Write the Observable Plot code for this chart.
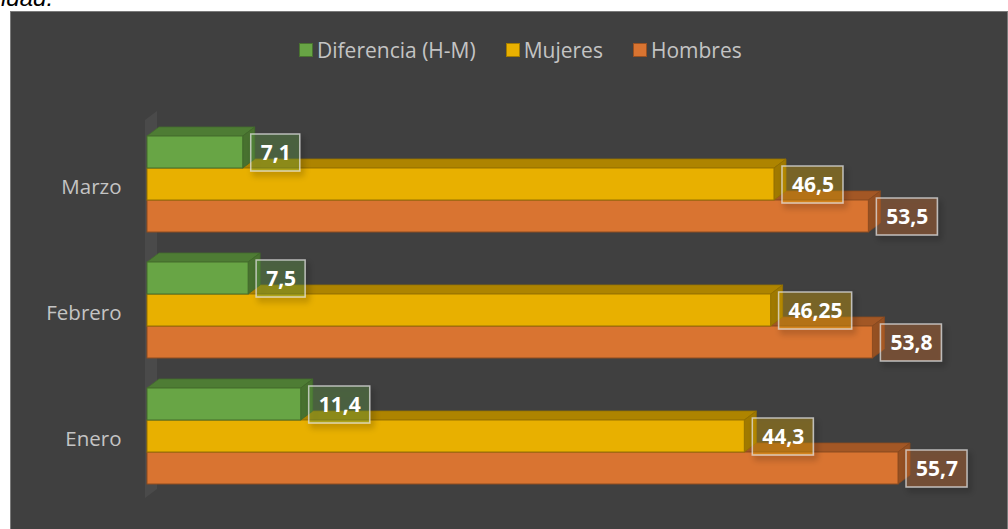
<!DOCTYPE html>
<html>
<head>
<meta charset="utf-8">
<script src="https://cdn.jsdelivr.net/npm/d3@7"></script>
<script src="https://cdn.jsdelivr.net/npm/@observablehq/plot@0.6"></script>
<style>
  html, body { margin: 0; padding: 0; }
  body { width: 1008px; height: 529px; overflow: hidden; position: relative; background: #ffffff; font-family: "Open Sans", sans-serif; }
  #cap { position: absolute; left: 1px; top: -16px; font: italic 24px "Liberation Sans", Arial, sans-serif; color: #000; white-space: nowrap; }
  #panel { position: absolute; left: 10px; top: 11px; width: 998px; height: 530px; background: #404040; border: 1px solid #7a7a7a; box-sizing: border-box; }
  #chart { position: absolute; left: 0; top: 0; }
  #legend { position: absolute; left: 299px; top: 36px; display: flex; align-items: center; color: #c4c4c4; font-size: 21px; font-family: "Open Sans", sans-serif; white-space: nowrap; }
  #legend .item { display: flex; align-items: center; margin-right: 30px; }
  #legend .sw { width: 12px; height: 12px; border: 1px solid; margin-right: 4px; }
</style>
</head>
<body>
<div id="cap">idad.</div>
<div id="panel"></div>
<div id="chart"></div>
<div id="legend"></div>
<script>
// ---- data ----
const months = ["Marzo", "Febrero", "Enero"];
const seriesTopToBottom = ["Diferencia (H-M)", "Mujeres", "Hombres"];
const hombres = [53.5, 53.8, 55.7];
const mujeres = [46.5, 46.25, 44.3];
const diferencia = [7.1, 7.5, 11.4];
const seriesColors = ["#68a545", "#e8b000", "#d97431"]; // Diferencia, Mujeres, Hombres

// rows in drawing order (bottom bar first so upper bars overlap the 3D tops)
const rows = months.flatMap((m, i) => [
  {month: m, series: "Hombres", value: hombres[i]},
  {month: m, series: "Mujeres", value: mujeres[i]},
  {month: m, series: "Diferencia (H-M)", value: diferencia[i]}
]);

const fmt = v => String(v).replace(".", ",");
const LABEL_FONT = "bold 21px 'Open Sans'";
const PAD = 9.5;
const measureCtx = document.createElement("canvas").getContext("2d");
measureCtx.font = LABEL_FONT;
const textWidth = s => measureCtx.measureText(s).width;

const NS = "http://www.w3.org/2000/svg";
const DEPTH_X = 12, DEPTH_Y = 9;

function poly(points, fill) {
  const p = document.createElementNS(NS, "polygon");
  p.setAttribute("points", points.map(q => q.join(",")).join(" "));
  p.setAttribute("fill", fill);
  return p;
}

function bars3d(index, scales, values, dimensions, context, next) {
  const g = next(index, scales, values, dimensions, context);
  const rects = Array.from(g.querySelectorAll("rect"));
  const labelBoxes = [];
  rects.forEach((r, k) => {
    const x = +r.getAttribute("x"), y = +r.getAttribute("y");
    const w = +r.getAttribute("width"), h = +r.getAttribute("height");
    const fill = r.getAttribute("fill");
    const c = d3.color(fill);
    const top = poly([[x, y], [x + DEPTH_X, y - DEPTH_Y], [x + w + DEPTH_X, y - DEPTH_Y], [x + w, y]], c.darker(0.8).formatHex());
    const side = poly([[x + w, y], [x + w + DEPTH_X, y - DEPTH_Y], [x + w + DEPTH_X, y + h - DEPTH_Y], [x + w, y + h]], c.darker(1.05).formatHex());
    top.setAttribute("stroke", c.darker(1.2).formatHex());
    top.setAttribute("stroke-width", 0.8);
    side.setAttribute("stroke", c.darker(1.3).formatHex());
    side.setAttribute("stroke-width", 0.8);
    g.insertBefore(top, r);
    g.insertBefore(side, r);
    r.setAttribute("stroke", c.darker(1.2).formatHex());
    r.setAttribute("stroke-width", 1);
    // value box
    const d = rows[index[k]];
    const bw = textWidth(fmt(d.value)) + 2 * PAD;
    const box = document.createElementNS(NS, "rect");
    box.setAttribute("x", x + w + 8);
    box.setAttribute("y", y + h / 2 - 18);
    box.setAttribute("width", bw);
    box.setAttribute("height", 37);
    box.setAttribute("fill", fill);
    box.setAttribute("fill-opacity", 0.3);
    box.setAttribute("stroke", "#e0e0e0");
    box.setAttribute("stroke-opacity", 0.75);
    box.setAttribute("stroke-width", 1.5);
    box.setAttribute("filter", "url(#lblshadow)");
    labelBoxes.push(box);
  });
  labelBoxes.forEach(b => g.appendChild(b));
  return g;
}

const plot = Plot.plot({
  width: 1008,
  height: 529,
  marginLeft: 147,
  marginRight: 52,
  marginTop: 135,
  marginBottom: 43,
  style: {background: "transparent", color: "#c4c4c4", fontFamily: "'Open Sans', sans-serif", fontSize: "20.5px"},
  x: {domain: [0, 60], axis: null},
  y: {domain: seriesTopToBottom, axis: null, padding: 0},
  fy: {domain: months, padding: 0.236, axis: null, label: null},
  color: {domain: seriesTopToBottom, range: seriesColors},
  marks: [
    Plot.axisFy({anchor: "left", tickSize: 0, tickPadding: 26, dy: 3, label: null}),
    Plot.barX(rows, {x: "value", y: "series", fy: "month", fill: "series", render: bars3d}),
    Plot.text(rows, {
      x: "value", y: "series", fy: "month",
      text: d => fmt(d.value),
      textAnchor: "start", dx: 8 + PAD, dy: 1,
      fill: "white", fontSize: 21, fontWeight: "bold"
    })
  ]
});

// shadow filter + 3D wall
const defs = document.createElementNS(NS, "defs");
defs.innerHTML = '<filter id="lblshadow" x="-30%" y="-30%" width="170%" height="180%"><feDropShadow dx="3" dy="4" stdDeviation="3" flood-color="#000" flood-opacity="0.45"/></filter>';
plot.insertBefore(defs, plot.firstChild);

const xs = plot.scale("x"), fys = plot.scale("fy");
const x0 = xs.apply(0) - 2;
const yT = fys.apply(months[0]) - 16;
const yB = fys.apply(months[months.length - 1]) + fys.bandwidth + 14;
const wall = poly([[x0, yT], [x0 + DEPTH_X, yT - DEPTH_Y], [x0 + DEPTH_X, yB - DEPTH_Y], [x0, yB]], "#4a4a4a");
const firstG = plot.querySelector("g");
plot.insertBefore(wall, firstG);

document.getElementById("chart").appendChild(plot);

// legend
const legend = document.getElementById("legend");
seriesTopToBottom.forEach((s, i) => {
  const item = document.createElement("div");
  item.className = "item";
  const sw = document.createElement("span");
  sw.className = "sw";
  sw.style.background = seriesColors[i];
  sw.style.borderColor = d3.color(seriesColors[i]).darker(1).formatHex();
  const t = document.createElement("span");
  t.textContent = s;
  item.appendChild(sw);
  item.appendChild(t);
  legend.appendChild(item);
});
</script>
</body>
</html>
